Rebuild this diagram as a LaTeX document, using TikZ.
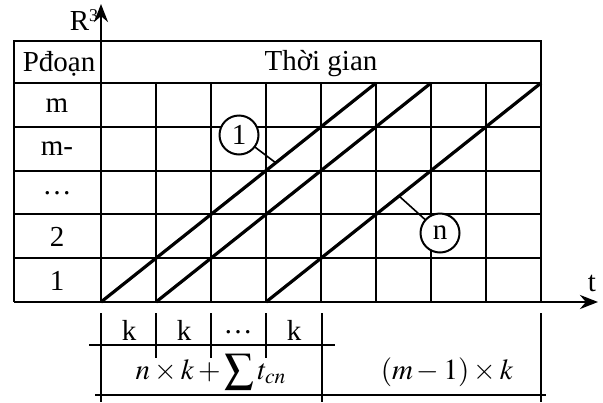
\documentclass[tikz,border=0pt]{standalone}
\usepackage{mathptmx}
\usepackage{fontspec}
\setmainfont{Liberation Serif}
\usepackage{tikz}
\usetikzlibrary{arrows.meta,positioning,calc}

\begin{document}
\begin{tikzpicture}[x=0.5pt, y=-0.5pt, every node/.style={font=\fontsize{14.5}{17}\selectfont},
  gridline/.style={line width=1pt},
  frameline/.style={line width=1.3pt},
  diagline/.style={line width=1.6pt},
  axisline/.style={line width=1.4pt, -{Stealth[length=9pt,width=7pt]}},
  leadline/.style={line width=0.8pt},
  tag/.style={circle, draw, fill=white, line width=1pt, minimum size=19.5pt, inner sep=0pt}]
  \useasboundingbox (0,0) rectangle (603,402);
  \def\xo{101}\def\cw{55}\def\yo{302}\def\rh{43.8}
  % grid of the table
  \foreach \i in {1,...,7}
    \draw[gridline] (\xo+\i*\cw,83) -- (\xo+\i*\cw,\yo);
  \foreach \j in {1,...,4}
    \draw[gridline] (14,\yo-\j*\rh) -- (541,\yo-\j*\rh);
  \draw[frameline] (14,83) -- (541,83);
  \draw[frameline] (14,\yo) -- (14,41) -- (541,41) -- (541,\yo);
  % work lines of the sections
  \foreach \s in {0,1,3}
    \draw[diagline] (\xo+\s*\cw,\yo) -- (\xo+\s*\cw+5*\cw,83);
  % axes
  \coordinate (o) at (\xo,\yo);
  \coordinate (ytop) at (\xo,4);
  \coordinate (xleft) at (14,\yo);
  \coordinate (xright) at (598,\yo);
  \draw[axisline] (o) -- (ytop);
  \draw[axisline] (xleft) -- (xright);
  \node (ylab) at (84,20) {R\raisebox{0.7ex}{\fontsize{9}{10}\selectfont 3}};
  \node (xlab) at (592,283) {t};
  % header and rows
  \node (hdr) at (59,64) {Pđoạn};
  \node (time) at (321,64) {Thời gian};
  \node (rm) at (57,106) {m};
  \node (rm1) at (57,149) {m-};
  \node (rdots) at (57,193) {…};
  \node (r2) at (57,237) {2};
  \node (r1) at (57,281) {1};
  % tags of the first and the last line
  \coordinate (p1) at (276,163);
  \coordinate (pn) at (399,196);
  \draw[leadline] (239,135) -- (p1);
  \draw[leadline] (440,233) -- (pn);
  \node[tag] (c1) at (239,135) {1};
  \node[tag] (cn) at (440,233) {n};
  % time table below
  \foreach \x in {101,322,541}
    \draw[gridline] (\x,313) -- (\x,402);
  \foreach \x in {156,211,266}
    \draw[gridline] (\x,313) -- (\x,358);
  \draw[gridline] (89,345) -- (335,345);
  \draw[gridline] (95,395) -- (546,395);
  \node (k1) at (129,330) {k};
  \node (k2) at (184,330) {k};
  \node (kdots) at (238,332) {…};
  \node (k3) at (294,330) {k};
  \node (tsum) at (211,372) {$n\times k+\displaystyle\sum t_{cn}$};
  \node (tend) at (447,372) {$(m-1)\times k$};
\end{tikzpicture}
\end{document}
